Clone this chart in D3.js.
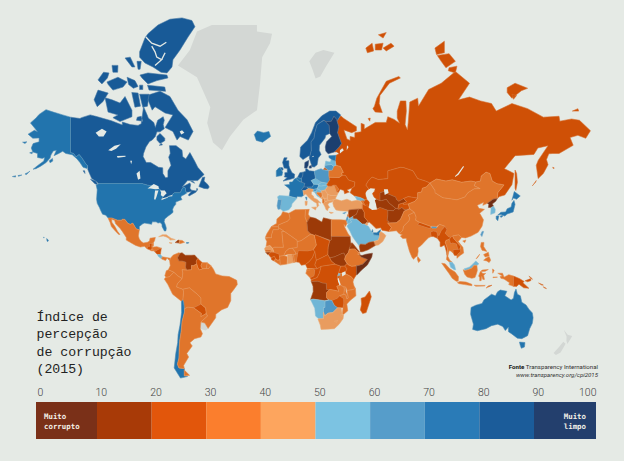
<!DOCTYPE html>
<html>
<head>
<meta charset="utf-8">
<script src="https://cdn.jsdelivr.net/npm/d3@7"></script>
<style>
html,body{margin:0;padding:0;background:#e5eae5;}
svg{display:block;}
</style>
</head>
<body>
<div id="chart"></div>
<script>
// CPI 2015 scores, by country code
var countryCodes=["RUS","CAN","USA","MEX","GTM","BLZ","HND","SLV","NIC","CRI","PAN","CUB","HTI","DOM","JAM",
"ISL","GBR","IRL","FRA","ESP","PRT","NOR","SWE","FIN","DNK","DEU","NLD","BEL","LUX","CHE","AUT","ITA","CZE","POL","SVK","HUN","SVN","HRV","BIH","SRB","MNE","ALB","MKD","GRC","BGR","ROU","MDA","UKR","BLR","LTU","LVA","EST",
"GEO","ARM","AZE","TUR","CYP","SYR","LBN","ISR","JOR","IRQ","IRN","KAZ","UZB","TKM","KGZ","TJK","AFG","PAK","IND","NPL","BTN","BGD","LKA","CHN","MNG","MMR","THA","LAO","VNM","KHM","MYS","IDN","TLS","PNG","PHL","TWN","PRK","KOR","JPN",
"SAU","QAT","ARE","OMN","YEM","KWT",
"MAR","ESH","DZA","TUN","LBY","EGY","SDN","SSD","TCD","NER","MLI","MRT","SEN","GMB","GNB","GIN","SLE","LBR","CIV","BFA","GHA","TGO","BEN","NGA","CMR","CAF","GAB","GNQ","COG","COD","AGO","UGA","KEN","ERI","ETH","DJI","SOM","TZA","RWA","BDI","ZMB","MWI","MOZ","ZWE","BWA","NAM","ZAF","LSO","SWZ","MDG",
"COL","VEN","GUY","SUR","GUF","ECU","PER","BOL","PRY","BRA","CHL","ARG","AUS"];
var countryScores=[29,83,76,35,28,35,31,39,27,55,39,47,17,33,41,
79,81,75,70,58,63,87,89,90,91,81,87,77,81,86,76,44,56,62,51,51,60,51,38,40,44,36,42,46,41,46,33,27,32,61,55,70,
52,35,29,42,61,18,28,61,53,16,27,28,19,18,28,26,11,30,38,27,65,25,37,37,39,22,38,25,31,21,50,36,28,25,35,62,8,56,75,
52,71,70,45,18,49,
36,36,36,38,16,36,12,15,22,34,35,31,44,28,17,25,29,37,32,38,47,32,37,26,27,24,34,34,23,22,17,25,25,18,33,34,8,30,54,21,38,31,31,21,63,53,44,44,43,28,
37,17,29,36,36,32,36,34,27,38,70,32,79];

// drawn pale in the picture
var noDataCodes=["GRL","SJM","NZL","URY"];

var scoreBins=[10,20,30,40,50,60,70,80,90];
var legendColors=["#7a3018","#a83a07","#e2560b","#fb7e2d","#fda55e","#7cc3e2","#569dca","#2a7bb7","#1b5c9a","#233f6d"];
var mapColors=["#6f2c14","#9c3a08","#cf5006","#e0752b","#e99c5f","#70b6d6","#4f97c4","#2274ad","#185a97","#1c3f6f"];
var noDataColor="#d3d7d4";
var legendTicks=[0,10,20,30,40,50,60,70,80,90,100];
var titleLines=["Índice de","percepção","de corrupção","(2015)"];
var sourceLines=["Transparency International","www.transparency.org/cpi2015"];

// lon/lat outlines
var shapes={
CAN:[
[[-141,69.7],[-135,69.4],[-134,69.6],[-128.5,70.2],[-125,69.9],[-120,69.4],[-115,68.9],[-108,67.9],[-108,68.6],[-103,68],[-98,67.8],[-96,68.2],[-95.5,69.5],[-94.5,71.9],[-92,70],[-91.5,69.5],[-88,68.5],[-87,67.3],[-85.5,69],[-82,69.8],[-81.3,69],[-82,68],[-81.3,67],[-84,66.2],[-86,66.2],[-87,65],[-89,64],[-90.7,63.6],[-93,62],[-94.5,60],[-94.8,59],[-92.8,57],[-90,57],[-85,55.3],[-82.3,55.1],[-82.2,53],[-80.5,51.3],[-79,51.5],[-79,54],[-77,56],[-78.5,58.8],[-77.5,60],[-78,62.4],[-73.8,62.4],[-70,61],[-69.6,59],[-67.6,58.2],[-65,60.3],[-62,57.5],[-60,55.3],[-56,52.6],[-60,50.2],[-66.5,50.2],[-70,47.5],[-65,49.2],[-64.5,48.5],[-65,47],[-64,46.1],[-61,45.8],[-60,46.2],[-60.5,47],[-61,45.3],[-65.5,43.5],[-66,44],[-64,45.5],[-67,45.2],[-67.8,45.7],[-67.8,47],[-68.2,47.3],[-69.2,47.4],[-70,46.7],[-70.8,45.4],[-71.5,45],[-74.8,45],[-76.2,44.2],[-76.5,43.6],[-79,43.3],[-79,42.8],[-83.1,42],[-82.5,42.6],[-82.1,43.5],[-82.5,45.3],[-83.6,46],[-84.1,46.5],[-84.9,46.9],[-88.4,48.3],[-89.6,48],[-92,48.3],[-94.6,48.8],[-95.2,49],[-123,49],[-125,50],[-127.5,51],[-130,54.5],[-130,55.9],[-131,56.3],[-133.5,58.4],[-135.5,59.7],[-137.5,58.9],[-139,60],[-141,60.3]],
[[-123.4,48.4],[-125.5,48.9],[-128.3,50.7],[-125,50]],
[[-132,54],[-131.8,53],[-133,54]],
[[-59.3,47.7],[-57,51.4],[-55.5,51.6],[-56,50],[-53.5,48.5],[-52.7,47.5],[-53.5,46.7],[-56,46.9]],
[[-64.5,49.9],[-62,49.1],[-63,49.9]],
[[-86,65],[-84,65.8],[-81,64.5],[-81,63.8],[-84,63],[-86,64]],
// Baffin
[[-91,74.1],[-84,74.7],[-77.7,73.8],[-72.6,71.2],[-66.8,69.1],[-63,66.3],[-66,64],[-71.3,65],[-73.2,64],[-75.8,66.3],[-80.8,67.3],[-75.8,70.2],[-80.8,70.6],[-87.2,71.9],[-89,71.2],[-91.7,73.2]],
// Victoria
[[-119,73.6],[-114.6,73.2],[-109.5,72.6],[-106.3,73.8],[-101.9,71.2],[-101.9,69.8],[-109.5,68.7],[-114,69.6],[-110.8,70.2],[-117.1,70.8]],
// Banks
[[-123.5,74.9],[-117,74.4],[-120.3,72.9],[-124,71.9],[-126,73.2]],
// Melville
[[-117.8,76.2],[-110.8,76.9],[-105,76.2],[-107.6,75.4],[-114,74.9],[-117,75.8]],
// Bathurst
[[-105,76.9],[-100,76.4],[-98,75.5],[-101,75.2],[-104,75.8]],
// Prince Patrick
[[-123.5,76.5],[-120,77.6],[-116.5,77.5],[-117.5,76.8],[-121,75.9]],
// Ellesmere and Axel Heiberg, split by the channels below
[[-97,80.1],[-93.6,81.5],[-91.7,81.9],[-85.3,82.64],[-77.7,83.1],[-70,83.2],[-63.7,83],[-61.8,82.5],[-66.2,81.6],[-71.3,80.3],[-75.8,79.2],[-76.4,78.3],[-79.6,77.5],[-83.4,77.6],[-88.5,78.3],[-93.6,78.8],[-97,79.5]],
// Devon
[[-92,75.7],[-81,75.4],[-80.5,74.7],[-91,74.9]],
[[-96.8,77.2],[-91.7,77.5],[-79.6,77.2],[-79,76.8],[-86,76.4],[-91.7,75.9],[-95.5,76.8]],
[[-97,75.7],[-95,75.7],[-95,75],[-97,75]],
// Somerset, Prince of Wales, King William
[[-97,74.2],[-91,74.2],[-92,72],[-95,71.8]],
[[-102,74.5],[-98,74.4],[-96.5,72],[-100,71.8]],
[[-99,69],[-95,68.8],[-96,69.9],[-98.5,69.7]],
// Ringnes group and small islands
[[-106.3,79.4],[-103,79.5],[-100,78.3],[-101.9,78.3]],
[[-98.7,79],[-96,79],[-96.7,78],[-98,78]],
[[-114.6,78.5],[-110.8,78.5],[-111,77.6],[-114,77.6]],
[[-84.5,62.5],[-82.5,62.6],[-83,63]]
],
USA:[
[[-123,49],[-95.2,49],[-94.6,48.8],[-92,48.3],[-89.6,48],[-88.4,48.3],[-84.9,46.9],[-84.1,46.5],[-83.6,46],[-82.5,45.3],[-82.1,43.5],[-82.5,42.6],[-83.1,42],[-79,42.8],[-79,43.3],[-76.5,43.6],[-76.2,44.2],[-74.8,45],[-71.5,45],[-70.8,45.4],[-70,46.7],[-69.2,47.4],[-68.2,47.3],[-67.8,47],[-67.8,45.7],[-67,44.8],[-69,44],[-70.5,43.5],[-70.7,42.7],[-70,41.8],[-71.5,41.4],[-74,40.6],[-74,39.5],[-75.3,38.3],[-76,37],[-75.7,35.5],[-77,34.6],[-79,33.4],[-81,32],[-81.4,30.5],[-80.5,28.5],[-80,26.8],[-80.3,25.3],[-81.2,25.2],[-82.7,27.7],[-82.8,29],[-84,30],[-85.3,29.7],[-86.5,30.4],[-89,30.4],[-89.4,29],[-91,29.3],[-93.8,29.7],[-95,29.3],[-97.2,27.8],[-97.2,25.9],[-99.2,26.5],[-101.4,29.7],[-103,29],[-104.5,29.6],[-106.5,31.8],[-108.2,31.8],[-108.2,31.3],[-111,31.3],[-114.8,32.5],[-117.1,32.5],[-118.5,34],[-120.6,34.5],[-122,36.8],[-122.5,37.8],[-124,40],[-124.4,42],[-124,46.3],[-124.7,48.4]],
[[-141,69.7],[-141,60.3],[-139,60],[-137.5,58.9],[-135.5,59.7],[-133.5,58.4],[-131,56.3],[-130,55.9],[-130.5,54.9],[-133,55.3],[-135,57],[-137,58.3],[-139.9,59.6],[-144,60],[-146,60.7],[-148.5,60],[-151.5,59.3],[-150,61],[-152,60.8],[-153.5,59.5],[-154,58.5],[-156.5,57],[-160,55.7],[-163,54.8],[-164.8,54.6],[-162,55.9],[-158,57.5],[-157.5,58.7],[-159,58.4],[-162,58.7],[-162,60],[-165,60.5],[-166,61.7],[-164.8,63],[-161,63.5],[-161,64.6],[-165,64.5],[-168,65.6],[-164,66.6],[-162,66.2],[-163.7,67.1],[-166.5,68.4],[-163,69.5],[-161,70.3],[-156.6,71.3],[-152,70.8],[-146,70.2]],
[[-154.5,57.6],[-152.5,58.4],[-152.3,57.5],[-154,56.9]],
[[-171.5,63.4],[-168.8,63.5],[-170,63]],
[[-167,60.2],[-165.2,60.5],[-165.5,59.9]],
[[-178,51.8],[-176,52.1],[-176,51.6]],
[[-174.5,52.2],[-172,52.4],[-174,51.9]],
[[-170,52.8],[-168,53.4],[-166.8,53.9],[-169,52.6]],
[[-156.2,20.8],[-155,19.8],[-155.6,18.9],[-156,19.6]],
[[-158.2,21.6],[-157.7,21.4],[-158,21.2]],
[[-67.2,18.4],[-65.7,18.4],[-66,18],[-67.2,18]]
],
MEX:[[[-117.1,32.5],[-114.8,32.5],[-111,31.3],[-108.2,31.3],[-108.2,31.8],[-106.5,31.8],[-104.5,29.6],[-103,29],[-101.4,29.7],[-99.2,26.5],[-97.2,25.9],[-97.8,22.4],[-97.2,20.6],[-96,19],[-94.5,18.2],[-92,18.6],[-90.7,19.3],[-90.4,21],[-87,21.5],[-87.5,19.5],[-88.2,18.5],[-89.1,17.9],[-91,17.8],[-90.5,16.1],[-91.7,16.1],[-92.2,14.6],[-94,16.1],[-96.5,15.7],[-99.5,16.7],[-102,18],[-105.5,19.9],[-105.5,21.5],[-108,25],[-109.4,26.7],[-112.3,29.3],[-113,31.2],[-114.8,31.8],[-114.7,30.2],[-112.8,27.9],[-111,25],[-109.5,23.2],[-110.3,23.2],[-112.2,25],[-115,27.8],[-115.8,30]]],
GTM:[[[-92.2,14.6],[-91.7,16.1],[-90.5,16.1],[-91,17.8],[-89.1,17.8],[-89.2,15.9],[-88.2,15.7],[-89.2,14.5],[-90.1,13.8]]],
BLZ:[[[-89.1,17.9],[-88.2,18.5],[-88.2,16.5],[-89.2,15.9]]],
HND:[[[-89.2,15.9],[-88.2,15.7],[-86,15.9],[-83.2,15],[-85,14.3],[-87.3,13],[-87.8,13.4],[-89.2,14.4]]],
SLV:[[[-90.1,13.8],[-89.2,14.4],[-87.8,13.9],[-87.8,13.3],[-89.8,13.4]]],
NIC:[[[-87.3,13],[-85,14.3],[-83.2,15],[-83.6,12.5],[-83.7,11],[-85.7,11.1],[-87.5,12.9]]],
CRI:[[[-85.7,11.1],[-83.7,11],[-82.6,9.6],[-83,8.3],[-85,9.8]]],
PAN:[[[-83,8.3],[-82.6,9.6],[-80,9.2],[-77.4,8.7],[-77.9,7.2],[-79.5,8.9],[-80.5,7.3],[-82.9,8.2]]],
CUB:[[[-84.9,21.9],[-82.5,23.1],[-80,23],[-77,21],[-74.3,20.2],[-77.7,19.9],[-78,20.7],[-80,21.8],[-82,22.4],[-83.8,22]]],
HTI:[[[-74.4,18.4],[-72.5,19.9],[-71.7,19.8],[-71.8,18.1]]],
DOM:[[[-71.7,19.8],[-69.9,19.7],[-68.4,18.6],[-71.4,17.7],[-71.8,18.1]]],
JAM:[[[-78.3,18.4],[-76.3,18.2],[-77,17.8]]],
GRL:[[[-51,82.64],[-22.3,82.64],[-22.3,82.1],[-12.7,81.9],[-14,81],[-19,79.5],[-20.4,75.8],[-22.3,71.2],[-31,69.1],[-39.5,65],[-44.6,61],[-50.3,63.3],[-54,68.4],[-52,71.8],[-60.5,76.9],[-72.6,78.5],[-65,80.3],[-60.5,82.1]]],
SJM:[[[11,79],[15,80],[20,80.3],[27,80],[22,78.5],[18,77],[15,76.7],[13,78]]],
NZL:[[[173,-34.5],[175.5,-37],[178.4,-37.7],[177,-39.5],[175.3,-41.6],[174.7,-40],[174.8,-38]],[[172.7,-40.5],[174.2,-41.5],[171,-45.5],[168,-46.6],[166.5,-45.8],[170,-43]]],
URY:[[[-58.4,-34],[-58,-30.3],[-55.5,-30.9],[-53.4,-33.8],[-55,-34.9]]],
ISL:[[[-24,65.5],[-22,66.4],[-18,66],[-14.7,66.3],[-13.6,65],[-18.7,63.4],[-22.7,63.9]]],
GBR:[[[-5.7,50],[-1,50.7],[1.4,51.2],[1.7,52.7],[0,53.3],[-1.5,55],[-2,56],[-2,57.6],[-4,57.6],[-3.1,58.6],[-5,58.6],[-6,57],[-5,55],[-3,54.9],[-3,53.4],[-4.6,53.3],[-4.5,52.2],[-5,51.7],[-3,51.4]],[[-6.4,54.1],[-5.5,54.6],[-6.2,55.2],[-7.4,55.1]]],
IRL:[[[-10,51.8],[-6.4,52.2],[-6,53.5],[-6.5,54.1],[-7.5,55.2],[-8.5,55],[-10,54]]],
FRA:[[[-1.8,43.4],[3,42.5],[3.2,43.3],[6,43.1],[7.5,43.8],[7,45.9],[6,46.3],[7.5,47.6],[8.2,49],[6.2,49.5],[4.2,50],[2.5,51.1],[1.5,50.8],[0.2,49.6],[-1.5,49.6],[-1.6,48.6],[-4.7,48.4],[-2,47],[-1.2,46]],[[8.6,42.9],[9.5,42.9],[9.3,41.5]]],
ESP:[[[-9.2,43.1],[-8,43.7],[-1.8,43.4],[3.2,42.4],[0,39.8],[-0.3,38.5],[-2,36.8],[-5.5,36],[-7.4,37.2],[-7,39.5],[-6.5,41.7],[-8.8,41.9]]],
PRT:[[[-8.8,41.9],[-6.5,41.7],[-7,39.5],[-7.4,37.2],[-8.9,37],[-9.5,38.7]]],
NOR:[[[5,59],[7,58],[10.5,59.2],[11.3,59.1],[12.3,61],[12.1,63.5],[14,64.5],[14.5,66],[16,68],[20,69],[22,68.7],[25,68.8],[26.7,69.9],[29,69],[31,70.2],[28,71],[24,71],[19,70],[15,68.5],[12.5,66],[10,64],[5.5,62]]],
SWE:[[[11.3,59.1],[11,58.5],[12.8,55.5],[14.2,55.4],[16,56.2],[16.7,58.5],[18.5,59.7],[17.3,61],[17.5,62.5],[21,64.5],[21.5,65.3],[24,65.8],[23.6,67.8],[20.5,69],[16,68],[14.5,66],[14,64.5],[12.1,63.5],[12.3,61]]],
FIN:[[[24,65.8],[25.3,65],[22,63.5],[21.2,62],[21.5,60.8],[23,59.9],[27,60.5],[30,62],[31.5,63],[29,66],[29.8,67.5],[28.5,69],[29,69],[26.7,69.9],[25,68.8],[22,68.7],[20.5,69],[23.6,67.8]]],
DNK:[[[8,55],[8.2,57],[10.6,57.7],[10.3,56],[9.5,55]],[[11,55.7],[12.5,56],[12.3,55],[11,55]]],
DEU:[[[6.2,49.5],[8.2,49],[7.5,47.6],[10,47.4],[13,47.5],[13.8,48.7],[12.2,50.2],[15,51],[14.7,52],[14.2,53.8],[11,54],[9.5,54.8],[8.7,54.8],[8.7,53.8],[7,53.5],[6.9,52.3],[6,51]]],
NLD:[[[6.9,52.3],[7,53.5],[5,53.3],[4,52],[3.4,51.4],[6,51]]],
BEL:[[[2.5,51.1],[3.4,51.4],[6,51],[6.2,50],[6,49.5],[4.2,50]]],
LUX:[[[6,50.1],[6.5,49.5],[6,49.5]]],
CHE:[[[6,46.3],[7.5,47.6],[9.6,47.5],[10.4,46.8],[8.5,46],[7,45.9]]],
AUT:[[[9.6,47.5],[13,47.5],[13.8,48.7],[16.9,48.6],[16.1,46.8],[13.7,46.5],[10.4,46.8]]],
ITA:[[[7,45.9],[8.5,46],[10.4,46.8],[13.7,46.5],[13.6,45.7],[12.3,45.3],[12.4,44.2],[13.6,43.5],[14,42.5],[16,41.9],[18.4,40.1],[17,40.5],[16.6,39.7],[17.1,39],[16,38],[15.7,40],[14,40.8],[12.3,41.7],[10.5,42.9],[8.8,44.4],[7.5,43.8]],[[12.5,38],[15.6,38.2],[15,36.7]],[[8.3,41],[9.7,41],[9.5,39.1],[8.5,39]]],
CZE:[[[12.2,50.2],[13.8,48.7],[16.9,48.6],[18.8,49.5],[15,51]]],
POL:[[[14.2,53.8],[14.7,52],[15,51],[18.8,49.5],[22.6,49.1],[24,50.5],[23.6,51.5],[23.5,52],[23.5,54],[19.7,54.4],[18.5,54.8],[16,54.3]]],
SVK:[[[16.9,48.6],[18.8,49.5],[22.6,49.1],[22.1,48.4],[18.8,47.9],[17,48]]],
HUN:[[[16.1,46.8],[17,48],[18.8,47.9],[22.1,48.4],[22.9,47.9],[21,46.2],[18.5,45.8]]],
SVN:[[[13.7,46.5],[16.1,46.8],[15.5,45.5],[13.6,45.5]]],
HRV:[[[13.6,45.5],[15.5,45.5],[16.1,46.8],[18.5,45.8],[19,45],[16,45.2],[15.8,44.5],[18.5,42.5],[16,43.5],[14.5,45.2]]],
BIH:[[[16,45.2],[19,45],[19.3,43.5],[18.5,42.5],[15.8,44.5]]],
SRB:[[[18.5,45.8],[21,46.2],[22.6,44.5],[22.5,42.5],[20.5,42.3],[19.3,43.5],[19,45]]],
MNE:[[[18.5,42.5],[19.3,43.5],[20.5,42.8],[19.4,41.9]]],
ALB:[[[19.4,41.9],[20.5,42.3],[20.9,40.8],[20,39.7],[19.4,40.5]]],
MKD:[[[20.5,42.3],[22.5,42.5],[23,41.3],[20.9,40.9]]],
GRC:[[[20,39.7],[20.9,40.8],[23,41.3],[26.3,41.7],[26,40.8],[23.5,40.2],[22.8,39.3],[24,38],[23,37.4],[22.8,36.4],[21.7,36.8],[21,38.3]],[[23.6,35.6],[26.3,35.3],[24.8,34.9]]],
BGR:[[[22.6,44.2],[25,43.7],[28.6,43.7],[27.7,42.4],[28,42],[26.3,41.7],[23,41.3],[22.5,42.5]]],
ROU:[[[21,46.2],[22.9,47.9],[24.9,47.8],[26.6,48.3],[28.2,45.5],[29.6,45.2],[28.6,43.7],[25,43.7],[22.6,44.2]]],
MDA:[[[26.6,48.3],[28,48.2],[30,46.4],[28.2,45.5]]],
UKR:[[[22.1,48.4],[22.6,49.1],[24,50.5],[23.6,51.5],[30,51.4],[32,52.3],[34,52.3],[36,50.4],[40,49.6],[39.7,47.8],[38.2,47.1],[35,46.2],[36.5,45.3],[33.5,44.5],[33,46],[30.7,46.5],[29.6,45.2],[28.2,45.5],[30,46.4],[28,48.2],[26.6,48.3],[24.9,47.8],[22.9,47.9]]],
BLR:[[[23.5,52],[23.6,51.5],[30,51.4],[32,52.3],[31.5,53.2],[32.7,53.4],[30.8,55.6],[28,56],[26.5,55.7],[25.7,54.3],[23.5,54]]],
LTU:[[[21,56],[21,55.2],[23,54.3],[25.7,54.3],[26.5,55.7],[25,56.3]]],
LVA:[[[21,56],[25,56.3],[26.5,55.7],[28,56],[27.5,57.5],[25,58],[24.3,57.2],[23,57.3],[21.5,57.5]]],
EST:[[[23.5,58.7],[24.5,58.3],[25,58],[27.5,57.5],[28,59.4],[23.5,59.3]]],
RUS:[
[[29,69],[31,70],[33,69.4],[41,67.5],[41,66.5],[38,66],[33,66.7],[35,64.3],[37,63.9],[37,65],[40,64.7],[40,66],[44,66.2],[44,68.3],[46,68],[46,66.9],[53,68.5],[60,68.5],[61,69.8],[65,69.2],[68.5,68.3],[67,69.5],[67,71],[69,73],[72.5,73],[72.8,71],[72,68],[73.5,66.7],[74,68.5],[75,72.8],[80,73.5],[80.5,72],[87,75],[95,76],[104,77.7],[113,76],[106,73.2],[113,73.7],[120,73],[127,72.5],[130,71],[140,72.5],[150,71.5],[160,69.7],[170,69.9],[170.5,68.8],[178,69.3],[183,69],[190,66.5],[187,64.5],[182,65.3],[177,64.7],[179,62.5],[170,60],[166,60],[163.5,59.9],[162,58],[163,56.2],[160,53],[156.7,51],[155.5,56],[156.8,57.8],[163,62.4],[156.5,61.7],[154,59.7],[142,59.3],[135.2,54.8],[138,54],[141.3,53],[140,48.5],[135.5,44],[132,43.2],[130.7,42.3],[131,45],[135,48.4],[130.5,48.9],[127.5,50],[126,53],[123.5,53.5],[120.5,52],[120,50],[117,49.6],[114,50],[108,49.5],[102,50.5],[98,50],[92,50.8],[87.8,49.2],[85,50],[80,51],[77,54],[71,55.2],[69,55.3],[61,54],[61,51],[55,50.6],[51,51.6],[48.5,50],[47,48.3],[49,46.5],[47.5,45.7],[46.7,44.5],[47.7,41.9],[46,41.9],[43.7,42.7],[40,43.4],[37,45],[38.2,47.1],[39.7,47.8],[40,49.6],[36,50.4],[34,52.3],[32,52.3],[31.5,53.2],[32.7,53.4],[30.8,55.6],[28,56],[27.5,57.5],[28,59.4],[30,59.9],[28.5,60.5],[27,60.5],[30,62],[31.5,63],[29,66],[29.8,67.5],[28.5,69]],
[[19.8,54.4],[23,54.3],[21,55.2]],
[[51.5,71.5],[53,70.8],[57.5,70.7],[55.5,72.5],[56,74],[62,76],[69,76.8],[68,77],[60,76.3],[54,73.5],[52.5,72]],
[[91,80.5],[97,81.2],[97,80],[92,79.8]],
[[92.5,79.7],[100,79.9],[104,79],[98,78.2],[95,79]],
[[100,78.2],[105,78.4],[104,77.5],[99.5,77.8]],
[[137,75.3],[142,76],[150,75.2],[146,74.8],[140,73.5],[137,74.5]],
[[140,74.2],[143,74],[141,73.3]],
[[178.5,71],[182,71.5],[182.5,71]],
[[142,54.3],[143,53],[143.5,49.5],[142.5,46],[142,47],[142,50]],
[[47,80.5],[51,81],[52,80.2],[48,80]],
[[53,80.9],[58,81],[57,80.3],[53,80.3]],
[[58,80.5],[63,81],[65,80.7],[60,80.2]],
[[55,81.8],[60,82],[58,81.5]],
[[48.5,69.4],[49.8,69.5],[49.5,68.8]],
[[166,55.3],[167,55],[166.2,54.9]],
[[153,48],[155,49.5],[155.5,50.2],[154,48.8]]
],
GEO:[[[40,43.4],[43.7,42.7],[46,41.9],[46.5,41.1],[43.5,41.1],[41.5,41.5]]],
ARM:[[[43.5,41.1],[45,41.2],[46.5,39],[44.8,39.7]]],
AZE:[[[46.5,41.1],[46,41.9],[47.7,41.9],[49.5,40.5],[49,38.4],[46.5,39],[45,41.2]]],
TUR:[[[26,40.1],[26.3,41.7],[28,42],[31.5,41.2],[35,42],[38,41],[41.5,41.5],[43.5,41.1],[44.8,39.7],[44.8,37.2],[42.3,37.2],[38,36.9],[36.2,36.7],[36,36],[33,36.2],[30.5,36.3],[28,36.7],[26.5,38.5]]],
CYP:[[[32.3,35],[34.5,35.6],[33.5,34.7]]],
SYR:[[[36,34.6],[36,36],[36.2,36.7],[38,36.9],[42.3,37.2],[41,34.5],[38.8,33.4],[36.8,32.3],[35.9,33.5]]],
LBN:[[[35.2,33.1],[35.9,33.5],[36,34.6],[35.6,34.5]]],
ISR:[[[34.3,31.3],[35,29.5],[35.6,31.5],[35.8,33],[35.1,33.1]]],
JOR:[[[35,29.5],[36,29.3],[38,30.3],[37,31.5],[39,32],[38.8,33.4],[36.8,32.3],[35.6,31.5]]],
IRQ:[[[38.8,33.4],[41,34.5],[42.3,37.2],[44.8,37.2],[46,35.5],[46,33],[48,31],[48.5,30],[47.7,30.1],[46.5,29.1],[44.7,29.2],[41,31.9],[39,32]]],
IRN:[[[44.8,39.7],[46.5,39],[48,39.5],[49,37.5],[54,36.9],[56,38],[61,36.5],[61,34],[60.5,31],[61.8,30.7],[60.9,29.8],[63.3,27.2],[61.7,25],[57.3,25.7],[56.5,27.1],[53.5,26.7],[50.8,29],[49,30.4],[48.5,30],[48,31],[46,33],[46,35.5],[44.8,37.2]]],
KAZ:[[[47,48.3],[48.5,50],[51,51.6],[55,50.6],[61,51],[61,54],[69,55.3],[71,55.2],[77,54],[80,51],[85,50],[87.8,49.2],[85.5,47.5],[83,47],[82.5,45.3],[80,45],[80,42.5],[74,43.2],[71,42.3],[68,41],[66.5,41.9],[66,43],[61,44.5],[58.5,45.5],[56,45],[56,41.3],[54,42],[52.5,42.7],[51,44.6],[53,46],[49,46.5]]],
UZB:[[[56,41.3],[56,45],[58.5,45.5],[61,44.5],[66,43],[66.5,41.9],[68,41],[71,42.3],[73,40.8],[71,40.2],[68,39.5],[67.4,37.3],[66,37.5],[62,40],[60,42],[57,41.3]]],
TKM:[[[52.5,41.8],[54,42],[56,41.3],[57,41.3],[60,42],[62,40],[66,37.5],[64.5,36.3],[61,36.5],[56,38],[54,37.3],[53,39.5]]],
KGZ:[[[71,42.3],[74,43.2],[80,42.5],[78,40.9],[74,39.7],[71,39.5],[71,40.2],[73,40.8]]],
TJK:[[[68,39.5],[71,40.2],[71,39.5],[74,39.7],[75,37.2],[71.5,36.8],[70,38],[68,37],[67.4,37.3]]],
AFG:[[[61,36.5],[64.5,36.3],[66,37.5],[67.4,37.3],[68,37],[70,38],[71.5,36.8],[74.9,37.3],[71.3,36],[70,33.5],[69,31.7],[66.4,29.9],[60.9,29.8],[61.8,30.7],[60.5,31],[61,34]]],
PAK:[[[60.9,29.8],[66.4,29.9],[69,31.7],[70,33.5],[71.3,36],[74.9,37.3],[77.8,35.5],[74,34],[75,32.5],[74.5,31],[71,28],[70.5,25.5],[68.2,23.7],[66.5,25.4],[61.7,25],[63.3,27.2]]],
IND:[[[77.8,35.5],[79,33],[78.7,31.3],[81,30.2],[80,28.8],[88,26.5],[88.2,27.9],[89,26.9],[92,26.9],[94,29],[97.4,27.9],[95,25.5],[93.5,22.5],[92.5,23.7],[92,25],[89.8,25.3],[88.1,24.5],[88.7,22],[86.9,21.3],[85,19.5],[82.2,16.7],[80.2,15.2],[80.3,13],[79.8,10.3],[78,8.9],[77.5,8.1],[76.5,9],[74.8,13],[73,19],[72.7,21],[70.5,20.8],[69,22.3],[70.3,23],[68.2,23.7],[70.5,25.5],[71,28],[74.5,31],[75,32.5],[74,34]]],
NPL:[[[80,28.8],[81,30.2],[88.2,27.9],[88,26.5]]],
BTN:[[[89,26.9],[89,28],[92,27.8],[92,26.9]]],
BGD:[[[88.1,24.5],[89.8,25.3],[92,25],[92.5,23.7],[92.5,21],[90,22],[88.7,22]]],
LKA:[[[80,9.8],[81.8,7.5],[80.6,6],[79.8,8]]],
CHN:[[[74,39.7],[78,40.9],[80,42.5],[80,45],[82.5,45.3],[83,47],[85.5,47.5],[87.8,49.2],[91,46],[91,45],[96,42.7],[105,41.7],[110,43],[112,45],[116,46.7],[119.8,46.8],[116,48],[117,49.6],[120,50],[120.5,52],[123.5,53.5],[126,53],[127.5,50],[130.5,48.9],[135,48.4],[131,45],[130.7,42.3],[128,42],[126,40.9],[124.4,40],[121.5,39],[122,40.5],[118,39],[119,37.5],[122.5,37],[119.5,35],[121.9,31.5],[121,28],[118.5,24.5],[114,22.3],[110.5,21.2],[108,21.5],[106,23],[102.2,22.4],[101,21.5],[99.5,22],[97.5,24],[98.7,25.9],[97.4,27.9],[94,29],[92,27.8],[89,28],[88.2,27.9],[81,30.2],[78.7,31.3],[79,33],[77.8,35.5],[74.9,37.3],[75,37.2]],[[108.7,19.3],[110.7,20],[110,18.4]]],
MNG:[[[87.8,49.2],[92,50.8],[98,50],[102,50.5],[108,49.5],[114,50],[117,49.6],[116,48],[119.8,46.8],[116,46.7],[112,45],[110,43],[105,41.7],[96,42.7],[91,45],[91,46]]],
MMR:[[[92.5,21],[92.5,23.7],[93.5,22.5],[95,25.5],[97.4,27.9],[98.7,25.9],[97.5,24],[99.5,22],[101,21.5],[100,20.3],[98,19.7],[97.6,18.5],[99,14.5],[98.7,10.5],[98.5,12],[97.7,15],[97,16.9],[95,15.9],[94.3,16],[94.3,18.7]]],
THA:[[[100.1,20.4],[101,17.5],[102.1,18.2],[104.7,17.5],[105.5,14.3],[102.5,14],[102.6,12],[100.9,13.3],[100,13.4],[99.2,10],[100.4,7.5],[102,6.2],[100.1,6.4],[98.3,7.9],[98.7,10.5],[99,14.5],[97.6,18.5],[98,19.7]]],
LAO:[[[100,20.3],[101,21.5],[102.2,22.4],[103,20.8],[105,18.7],[107.5,16],[107,14.5],[105.5,14.3],[104.7,17.5],[102.1,18.2],[101,17.5],[100.1,20.4]]],
VNM:[[[102.2,22.4],[106,23],[108,21.5],[105.8,19],[108.8,15.5],[109.3,12],[107,10.5],[105,8.7],[105,10.5],[106,11.7],[107.5,13],[107,14.5],[107.5,16],[105,18.7],[103,20.8]]],
KHM:[[[102.6,12],[102.5,14],[105.5,14.3],[107,14.5],[107.5,13],[106,11.7],[105,10.5],[103.5,10.5]]],
MYS:[[[100.1,6.4],[102,6.2],[103.4,4.5],[104.2,1.4],[103.3,1.5],[101,3],[100.3,5.5]],[[109.6,2],[110,0.9],[112,1.5],[114.5,2.5],[115.9,4.3],[117.7,4.2],[119,5.2],[117,7],[115,5],[113,3.2],[111.4,2.6]]],
IDN:[
[[95.3,5.6],[97.5,5.2],[100.5,2],[103.8,0],[106,-3],[105.8,-5.8],[104.5,-5.8],[102,-4],[100,-1],[98,1.8]],
[[105.3,-6.8],[106.8,-6],[110.8,-6.4],[114.5,-7.8],[114.5,-8.7],[110,-8],[106.4,-7.4]],
[[109,1.5],[110,0.9],[112,1.5],[114.5,2.5],[115.9,4.3],[117.7,4.2],[118,1],[117.5,-0.8],[116.5,-3.5],[114.5,-4],[111.5,-3.2],[110,-1.5]],
[[119.8,0],[121,1.2],[125,1.6],[123,0.5],[120.3,0.3],[121.5,-1],[123.3,-0.9],[122,-2],[122.5,-4.7],[121.5,-4.7],[120.8,-2.7],[120.4,-5.5],[119.5,-5.5],[119.5,-3.3],[118.8,-2.7]],
[[131,-0.8],[134,-0.8],[135,-3.3],[138,-1.7],[141,-2.6],[141,-9.1],[138,-8],[138.5,-6.8],[135,-4.5],[133,-4],[132.5,-2.8],[134,-2.5]],
[[116,-8.4],[119,-8.5],[123,-8.5],[122.5,-8.9],[117,-9]],
[[127.7,2],[128.7,1],[127.8,-0.8]],
[[127.9,-3.2],[130.8,-3.3],[128,-3.6]],
[[123.5,-10.2],[124.9,-8.9],[125,-9.5]]
],
TLS:[[[124.9,-8.9],[127.3,-8.4],[125,-9.5]]],
PNG:[[[141,-2.6],[145,-4.3],[147.8,-6],[147,-6.8],[150.8,-10.3],[147.5,-10],[144.5,-7.7],[143,-9.2],[141,-9.1]],[[148.4,-5.6],[152,-4.2],[152,-5.5],[150,-6.2]],[[150.8,-2.7],[153,-4.7],[152.5,-3.8]],[[157,-7],[160,-8.3],[159,-8.3]],[[160,-9.3],[162,-10.5],[160.5,-10]]],
PHL:[[[120.5,18.5],[122.2,18.5],[122,16],[124,13],[121,13.7],[120,16]],[[122,7.5],[123.5,8.7],[125.5,9.8],[126.5,7.5],[125.5,6],[124,7]],[[117.2,8.4],[119.5,11.3],[118,8.9]],[[122,11],[125,12.5],[125.5,10.2],[123,9.5]]],
TWN:[[[120.1,23],[121,25],[122,25],[120.9,22]]],
PRK:[[[124.4,40],[126,40.9],[128,42],[130.7,42.3],[129.7,41],[127.5,39.7],[128.3,38.6],[126.7,37.9],[125,38],[125.3,39.5]]],
KOR:[[[126.7,37.9],[128.3,38.6],[129.4,37],[129.2,35.2],[126.5,34.4],[126.7,37]]],
JPN:[[[130.9,34],[133,35.5],[136,35.7],[137,37.3],[139.5,38.2],[140,40],[141.3,41.4],[142,39.5],[140.8,35.7],[137,34.6],[135.5,33.5],[133,34.3]],[[140,41.5],[141.5,45.5],[145.3,43.5],[143,42],[141,42.5]],[[130,33.5],[131.7,33.6],[131,31],[130,32]],[[132.5,33.5],[134.5,34],[134,33.3],[133,32.8]]],
SAU:[[[36,29.3],[38,30.3],[37,31.5],[39,32],[41,31.9],[44.7,29.2],[46.5,29.1],[47.7,28.5],[48.8,27.7],[50.2,25.6],[51,24.5],[52,23],[55,22.7],[55.7,22],[55,20],[52,19],[49,18.6],[46.7,17.3],[43.5,17.5],[42.8,16.4],[40,20],[38.5,22],[37,25],[35,28]]],
QAT:[[[50.8,24.8],[51.2,26.1],[51.6,25],[51,24.5]]],
ARE:[[[51.6,24.2],[54,24.2],[56.3,26],[56.4,24.9],[55.7,24],[55.7,22],[55,22.7],[52,23]]],
OMN:[[[56.4,24.9],[58.7,23.6],[59.8,22.5],[57.8,19],[55,17],[53,16.6],[52,19],[55,20],[55.7,22],[55.7,24]]],
YEM:[[[42.8,16.4],[43.5,17.5],[46.7,17.3],[49,18.6],[52,19],[53,16.6],[48.5,14],[45,12.8],[43.5,12.7]]],
KWT:[[[46.5,29.1],[47.7,30.1],[48.4,29.2],[47.7,28.5]]],
MAR:[[[-1.2,32.2],[-2,35],[-5.9,35.8],[-6.9,34],[-9.6,32],[-9.8,29.5],[-12.9,27.9],[-13.2,27.7],[-8.7,27.7],[-8.7,28.7],[-3,30.7]]],
ESH:[[[-8.7,27.7],[-13.2,27.7],[-16,23.7],[-17,21.4],[-13,21.3],[-13,23],[-12,26],[-8.7,26]]],
DZA:[[[-2,35],[2,36.8],[8.6,36.9],[8.3,33],[9.5,30.2],[10,25.3],[12,23.5],[5.7,19.5],[3.3,19],[3.2,19.8],[-4.8,25],[-8.7,27.2],[-8.7,28.7],[-3,30.7],[-1.2,32.2]]],
TUN:[[[8.6,36.9],[11,37],[10.3,34.5],[11.5,33],[10,30.5],[9.5,30.2],[8.3,33]]],
LBY:[[[11.5,33],[15,32.3],[19,30.3],[20,32.6],[25,31.6],[25,20],[24,19.5],[24,20],[15,23],[14.2,22.7],[12,23.5],[10,25.3],[9.5,30.2]]],
EGY:[[[25,31.6],[31,31.5],[34.3,31.3],[35,29.5],[34,27.8],[33,29],[33.5,27.5],[35.5,24],[37,22],[25,22]]],
SDN:[[[25,22],[37,22],[37.4,18],[38.6,18],[36.5,15],[36,12.5],[34,10],[33,12],[32,11.8],[27,9.6],[24,9],[22.8,11],[23,15.7],[24,19.5],[25,20]]],
SSD:[[[24,9],[27,9.6],[32,11.8],[33,12],[34,10],[33.5,8],[35,5.4],[33.5,3.8],[31,3.7],[27.5,5],[25,7]]],
TCD:[[[14.2,22.7],[15,23],[24,19.5],[23,15.7],[22.8,11],[18.8,9],[15.5,7.5],[15,10],[14.5,12.9],[13.5,14],[15.5,16.9]]],
NER:[[[3.3,19],[5.7,19.5],[12,23.5],[14.2,22.7],[15.5,16.9],[13.5,14],[10,13.3],[4,13.5],[3.6,11.7],[2.4,11.3],[2.2,12.5],[0.2,15],[3.3,15.4]]],
MLI:[[[-12.3,14.8],[-11.5,15.6],[-5.5,15.5],[-6.5,25],[-4.8,25],[3.2,19.8],[3.3,19],[3.3,15.4],[0.2,15],[-2,14.7],[-4,13],[-5.3,10.4],[-8,10],[-8.3,11.4],[-11.5,12.4]]],
MRT:[[[-17,21],[-13,21.3],[-13,23],[-12,26],[-8.7,26],[-8.7,27.2],[-4.8,25],[-6.5,25],[-5.5,15.5],[-11.5,15.6],[-12.3,14.8],[-14,16.6],[-16.5,16],[-16,19]]],
SEN:[[[-16.5,16],[-14,16.6],[-12.3,14.8],[-11.5,12.4],[-16.7,12.4],[-17.5,14.7]]],
GMB:[[[-16.8,13.6],[-13.8,13.5],[-13.8,13.3],[-16.7,13.2]]],
GNB:[[[-16.7,12.4],[-13.7,12.6],[-14,11.7],[-15.5,11]]],
GIN:[[[-15,11],[-13.7,12.6],[-11.5,12.4],[-8.3,11.4],[-8,10],[-7.7,8],[-9,7.4],[-10.5,8.4],[-11.2,10],[-13.3,9.1]]],
SLE:[[[-13.3,9.1],[-11.2,10],[-10.5,8.4],[-11.4,7],[-13,7.8]]],
LBR:[[[-11.4,7],[-10.5,8.4],[-9,7.4],[-7.7,8],[-7.5,4.4]]],
CIV:[[[-7.5,4.4],[-7.7,8],[-8,10],[-5.3,10.4],[-2.8,9.6],[-3.1,5.1]]],
BFA:[[[-5.3,10.4],[-4,13],[-2,14.7],[0.2,15],[2.2,12.5],[2.4,11.3],[0,11],[-2.8,11]]],
GHA:[[[-3.1,5.1],[-2.8,11],[0,11],[0.5,8],[1,6]]],
TGO:[[[0,11],[1,11],[1.6,6.2],[1,6],[0.5,8]]],
BEN:[[[1,11],[2.4,11.3],[3.6,11.7],[2.7,6.4],[1.6,6.2]]],
NGA:[[[2.7,6.4],[3.6,11.7],[4,13.5],[10,13.3],[13.5,14],[14.5,12.9],[13,9],[11,6.7],[8.6,4.8],[6,4.3],[4.5,6.2]]],
CMR:[[[8.6,4.8],[11,6.7],[13,9],[14.5,12.9],[15,10],[15.5,7.5],[14.5,4.5],[16,2],[13,2.2],[9.8,2.2]]],
CAF:[[[15.5,7.5],[18.8,9],[22.8,11],[24,9],[25,7],[27.5,5],[22,4.2],[18.5,3.6],[16,2],[14.5,4.5]]],
GAB:[[[9.8,2.2],[13,2.2],[14.5,1.3],[14,-2.4],[11.5,-3.7],[8.8,-0.8]]],
GNQ:[[[9.4,1],[11.3,1],[11.3,2.2],[9.8,2.2]]],
COG:[[[13,2.2],[16,2],[18.5,3.6],[17.5,-0.5],[16,-3.5],[12.2,-5],[11.5,-3.7],[14,-2.4],[14.5,1.3]]],
COD:[[[18.5,3.6],[22,4.2],[27.5,5],[31,3.7],[29.6,-1],[29,-4.5],[30.7,-8.3],[28.5,-9],[29.8,-12.2],[27.3,-11.6],[24,-11],[22,-11],[21.8,-7.2],[19.5,-7],[16.5,-5.8],[12.2,-6],[12.2,-5],[16,-3.5],[17.5,-0.5]]],
AGO:[[[12.2,-6],[16.5,-5.8],[19.5,-7],[21.8,-7.2],[22,-11],[24,-11],[22,-13],[22,-16.2],[23.4,-17.6],[21,-18],[13.4,-17],[11.8,-17.3],[13.5,-12.5],[13.4,-9]]],
UGA:[[[31,3.7],[33.5,3.8],[35,2],[34,0],[33.9,-1],[30.5,-1],[29.6,-1]]],
KEN:[[[35,5.4],[36,4.5],[38,3.6],[41,3.9],[41,-1.7],[39.2,-4.7],[37.7,-3],[33.9,-1],[34,0],[35,2],[33.5,3.8]]],
ERI:[[[36.5,15],[37.4,18],[38.6,18],[43,12.7],[42.3,12.5],[40,14.5],[38,14.5],[36.5,14.3]]],
ETH:[[[34,10],[36,12.5],[36.5,14.3],[38,14.5],[40,14.5],[42.3,12.5],[42,11],[43,11],[44,9.5],[48,8],[45,5],[42,4],[41,3.9],[38,3.6],[36,4.5],[35,5.4],[33.5,8]]],
DJI:[[[41.8,11],[42.3,12.5],[43.3,12],[43,11]]],
SOM:[[[41,-1.7],[41,3.9],[42,4],[45,5],[48,8],[44,9.5],[43,11],[44.5,10.4],[47,11.2],[51.2,11.9],[50.8,9.5],[48,4.5],[44,1],[41.5,-1.7]]],
TZA:[[[33.9,-1],[37.7,-3],[39.2,-4.7],[38.8,-6.4],[39.5,-8.8],[40.4,-10.5],[38,-11.3],[34.9,-11.6],[34.2,-9.5],[33,-9.4],[30.7,-8.3],[29,-4.5],[30.5,-3.5],[30.5,-1]]],
RWA:[[[29,-2.7],[29.6,-1],[30.5,-1],[30.5,-2.4]]],
BDI:[[[29,-2.7],[30.5,-2.4],[30.5,-3.5],[29.5,-4.4]]],
ZMB:[[[22,-13],[24,-11],[27.3,-11.6],[29.8,-12.2],[28.5,-9],[30.7,-8.3],[33,-9.4],[33.3,-11],[33,-14],[30.2,-15],[28.8,-16.5],[25.3,-17.8],[23.4,-17.6],[22,-16.2]]],
MWI:[[[33,-9.4],[34.2,-9.5],[34.9,-11.6],[35.8,-16],[35,-17],[34.3,-14.5],[33,-14],[33.3,-11]]],
MOZ:[[[34.9,-11.6],[38,-11.3],[40.4,-10.5],[40.7,-15],[37,-17.8],[34.9,-20],[35.5,-24],[32.9,-26],[32,-26],[32.5,-22],[33,-19.5],[32.9,-16.7],[30.2,-15],[33,-14],[34.3,-14.5],[35,-17],[35.8,-16]]],
ZWE:[[[25.3,-17.8],[28.8,-16.5],[30.2,-15],[32.9,-16.7],[33,-19.5],[32.5,-22],[29,-22.2],[27,-20.8]]],
BWA:[[[21,-18.2],[23.4,-17.6],[25.3,-17.8],[27,-20.8],[29,-22.2],[26,-25],[23,-25.3],[20.8,-26.8],[20,-24.7],[20,-22],[21,-22]]],
NAM:[[[11.8,-17.3],[13.4,-17],[21,-18],[23.4,-17.6],[21,-18.2],[21,-22],[20,-22],[20,-28.4],[17,-28.5],[15,-27],[14.5,-22.5]]],
ZAF:[[[16.5,-28.6],[17,-28.5],[20,-28.4],[20,-24.7],[20.8,-26.8],[23,-25.3],[26,-25],[29,-22.2],[31.3,-22.4],[32,-26],[32.9,-26],[32.5,-28.5],[30,-31.5],[27,-33.9],[22,-34.2],[18.5,-34.3],[18,-32]]],
LSO:[[[27,-29.7],[29.3,-29.5],[28,-30.6]]],
SWZ:[[[31,-26],[32,-26],[32,-27.2],[31,-27.2]]],
MDG:[[[49.3,-12],[50.5,-15.5],[47.2,-25],[45,-25.6],[43.5,-23.5],[44.3,-20],[44,-16.5],[46.5,-15.7]]],
COL:[[[-77.4,8.7],[-75.6,10.7],[-72,12.2],[-71.3,11.8],[-72.9,9],[-72,7],[-70,7],[-67.5,6.2],[-67.8,3],[-67,1.2],[-70,1.5],[-69.5,-0.5],[-70,-4.2],[-72.8,-2.4],[-75.2,-0.1],[-78.7,1.4],[-77.5,4],[-77.9,7.2]]],
VEN:[[[-71.3,11.8],[-70,12.2],[-68,10.6],[-64,10.6],[-62,10.7],[-60,8.5],[-61,7],[-60.7,5.2],[-62.8,4],[-64,4.2],[-64,1.5],[-67,1.2],[-67.8,3],[-67.5,6.2],[-70,7],[-72,7],[-72.9,9]]],
GUY:[[[-60,8.5],[-57.2,6],[-58,4],[-57,2],[-59,1.3],[-60,3],[-60.7,5.2],[-61,7]]],
SUR:[[[-57.2,6],[-54,5.9],[-54.5,2.3],[-57,2],[-58,4]]],
GUF:[[[-54,5.9],[-51.7,4.2],[-53,2.2],[-54.5,2.3]]],
ECU:[[[-80.9,-2.2],[-80,0.8],[-78.7,1.4],[-75.2,-0.1],[-78,-3],[-80.3,-3.4]]],
PER:[[[-81.3,-4.5],[-80.3,-3.4],[-78,-3],[-75.2,-0.1],[-72.8,-2.4],[-70,-4.2],[-73,-7.5],[-73.5,-9.5],[-69.5,-10.9],[-69,-12.5],[-69.5,-17.5],[-70.4,-18.3],[-76,-14],[-79,-8]]],
BOL:[[[-69.5,-10.9],[-65.3,-10],[-60.5,-13.8],[-58,-16.3],[-58,-20],[-62.7,-22.2],[-66.3,-21.8],[-68.5,-22.8],[-69,-19],[-69.5,-17.5],[-69,-12.5]]],
PRY:[[[-58,-20],[-55,-22.3],[-54.6,-25.5],[-58,-27.3],[-57.7,-25.5],[-60,-24],[-62.7,-22.2]]],
BRA:[[[-51.7,4.2],[-50,1.8],[-48.6,-1.2],[-44.5,-2.5],[-40,-2.9],[-35.2,-5.3],[-34.8,-8],[-37,-11],[-39,-13.5],[-39,-18],[-41,-22],[-44.7,-23.3],[-48.5,-25.9],[-48.6,-28],[-53.4,-33.8],[-55.5,-30.9],[-58,-30.3],[-53.8,-27],[-54.6,-25.5],[-55,-22.3],[-58,-20],[-58,-16.3],[-60.5,-13.8],[-65.3,-10],[-69.5,-10.9],[-73.5,-9.5],[-73,-7.5],[-70,-4.2],[-69.5,-0.5],[-70,1.5],[-67,1.2],[-64,1.5],[-64,4.2],[-62.8,4],[-60.7,5.2],[-60,3],[-59,1.3],[-57,2],[-54.5,2.3],[-53,2.2]]],
CHL:[[[-70.4,-18.3],[-69.5,-17.5],[-69,-19],[-68.5,-22.8],[-68.4,-24.5],[-70,-30],[-70.5,-35],[-71.5,-40],[-71.8,-44],[-72,-48],[-73,-50.5],[-72,-52],[-68.5,-52.3],[-68.6,-55],[-66.5,-55.2],[-71,-55.8],[-75,-52],[-74,-46],[-72.8,-41],[-72.5,-37],[-71.3,-32],[-70.3,-25]]],
ARG:[[[-66.3,-21.8],[-62.7,-22.2],[-60,-24],[-57.7,-25.5],[-58,-27.3],[-54.6,-25.5],[-53.8,-27],[-58,-30.3],[-58.4,-34],[-57,-36.5],[-58,-38.2],[-62,-39],[-65,-41],[-63.5,-42.5],[-67,-46],[-65.8,-47.5],[-69,-51],[-68.5,-52.3],[-72,-52],[-73,-50.5],[-72,-48],[-71.8,-44],[-71.5,-40],[-70.5,-35],[-70,-30],[-68.4,-24.5],[-68.5,-22.8]],[[-68.6,-52.8],[-68.6,-55],[-65.2,-54.8]]],
AUS:[[[114,-22],[113.7,-26],[115.5,-31.5],[115,-34.3],[118,-35],[123.5,-33.9],[127,-32.3],[131,-31.5],[134.2,-32.8],[135.8,-34.9],[137.8,-33],[137.8,-35.5],[139.7,-36.5],[143.5,-38.8],[146.3,-39],[150,-37.5],[151.3,-33.9],[153,-31],[153.5,-28],[153,-25.2],[150.8,-23],[149,-20.5],[146.3,-18.9],[145.4,-15],[143.5,-14],[142.6,-10.8],[141.6,-13],[141,-16.5],[139.5,-17.5],[135.5,-15],[136.8,-12.2],[132.6,-11.4],[130.9,-12.5],[129.5,-15],[127,-14],[125,-15.5],[122.2,-17.5],[121,-19.6],[117,-20.7]],[[144.8,-40.7],[148.3,-40.9],[148,-43],[146,-43.6],[145.3,-42.2]]]
};

// inland water, painted over the countries
var lakes=[
[[47,45],[47.5,43],[49.5,40.5],[49,38],[51,36.7],[54,36.9],[53.5,39.5],[52.7,41.5],[53.5,42],[51.3,43.2],[51,44.7],[53,46.7],[50,47],[48,46]],
[[58.5,46.5],[61,46.5],[61.5,45],[59,44]],
[[103.8,51.6],[106,52.5],[109.5,55.5],[109,55.8],[105.5,53],[103.8,52]],
[[-125,66],[-121,67],[-118,66.3],[-120,65],[-123,65]],
[[-117,61],[-113,62.4],[-109,62.8],[-112,61.5],[-115,60.8]],
[[-99,53],[-97,54],[-96.5,51],[-98,50.5]],
[[-111.5,59.2],[-106,59.3],[-106,58.9],[-111,58.6]],
[[-103,57.6],[-101.8,57.6],[-102.4,56.4]],
[[-92,46.8],[-88,48.8],[-85,47.8],[-84.7,46.6],[-87,46.5],[-90,46.8]],
[[-87.8,42],[-87.2,46],[-85,46],[-86.3,43],[-87,41.7]],
[[-84,46],[-81,46],[-79.8,44.7],[-82,43.1],[-83.5,43.8],[-83.3,45.2]],
[[-83.3,41.5],[-79,42.8],[-79,43],[-82.5,42.4]],
[[-79.7,43.2],[-76.2,44],[-76.2,43.4],[-79,43.2]],
[[31.7,-0.5],[33.9,0.4],[34.2,-1.5],[32,-2.8]],
[[29.2,-3.5],[29.7,-4.2],[31,-8],[30.3,-8.5],[29.3,-6]],
[[34.3,-9.8],[34.8,-12],[34.7,-14],[34.3,-12]],
[[30.5,60],[33,61],[32,61.6],[30.5,61]],
[[34.8,61],[36,62],[35,62.5]],
[[12.5,58.8],[14,59],[13.5,59.3]],
[[-71.5,66.3],[-70,66.6],[-68.5,66],[-70.5,65.5]]
];

// narrow sounds in the Arctic islands
var channels=[
[[-93,81.6],[-89.3,81],[-84,80.7],[-80,81.1]],
[[-89.3,80.7],[-87.2,80.1],[-86.1,79.5],[-83,79.2],[-87.2,78.5]],
[[-83,79.2],[-80.8,80]]
];

var width=624,height=461;
var mercator=d3.geoMercator().scale(90).translate([292,272]);

// Chukotka is written past 180 so it stays on the right edge
function project(p){
	if(p[0]<=180) return mercator(p);
	var q=mercator([p[0]-360,p[1]]);
	return [q[0]+2*Math.PI*90,q[1]];
}

var color=d3.scaleThreshold().domain(scoreBins).range(mapColors);
var line=d3.line().curve(d3.curveLinearClosed);
var openLine=d3.line();

function ringsPath(rings){
	return rings.map(function(r){ return line(r.map(project)); }).join("");
}

var scoreOf=d3.rollup(countryCodes.map(function(c,i){ return [c,countryScores[i]]; }),function(v){ return v[0][1]; },function(d){ return d[0]; });

var svg=d3.select("#chart").append("svg")
	.attr("width",width)
	.attr("height",height);

// grey places first, then the scored countries
svg.append("g").selectAll("path")
	.data(noDataCodes)
	.enter().append("path")
	.attr("d",function(d){ return ringsPath(shapes[d]); })
	.style("fill",noDataColor);

svg.append("g").selectAll("path")
	.data(countryCodes)
	.enter().append("path")
	.attr("d",function(d){ return ringsPath(shapes[d]); })
	.style("fill",function(d){ return color(scoreOf.get(d)); })
	.style("stroke",function(d){ return color(scoreOf.get(d)); })
	.style("stroke-width",0.5)
	.style("stroke-linejoin","round");

// faint borders on top
svg.append("g").selectAll("path")
	.data(countryCodes)
	.enter().append("path")
	.attr("d",function(d){ return ringsPath(shapes[d]); })
	.style("fill","none")
	.style("stroke","#f3e6d8")
	.style("stroke-opacity",0.2)
	.style("stroke-width",0.5);

svg.append("g").selectAll("path")
	.data(lakes)
	.enter().append("path")
	.attr("d",function(d){ return line(d.map(project)); })
	.style("fill","#e5eae5");

svg.append("g").selectAll("path")
	.data(channels)
	.enter().append("path")
	.attr("d",function(d){ return openLine(d.map(project)); })
	.style("fill","none")
	.style("stroke","#e5eae5")
	.style("stroke-width",1.3);

// title
svg.append("g").selectAll("text")
	.data(titleLines)
	.enter().append("text")
	.attr("x",36.5)
	.attr("y",function(d,i){ return 321+i*17.4; })
	.style("font-family","'Liberation Mono',monospace")
	.style("font-size","13.2px")
	.style("fill","#222")
	.text(function(d){ return d; });

// source
var source=svg.append("g").style("font-family","Roboto,sans-serif").style("font-size","6.1px").style("fill","#333");
var sourceText=source.append("text").attr("x",598).attr("y",369).attr("text-anchor","end");
sourceText.append("tspan").style("font-weight",700).style("fill","#111").text("Fonte ");
sourceText.append("tspan").text(sourceLines[0]);
source.append("text").attr("x",598).attr("y",377).attr("text-anchor","end").style("font-style","italic").text(sourceLines[1]);

// legend
var legendX=d3.scaleLinear().domain([0,10,90,100]).range([36,97,534,596]);
var bins=d3.pairs(legendTicks);

svg.append("g").selectAll("rect")
	.data(bins)
	.enter().append("rect")
	.attr("x",function(d){ return legendX(d[0]); })
	.attr("y",402)
	.attr("width",function(d){ return legendX(d[1])-legendX(d[0]); })
	.attr("height",37)
	.style("fill",function(d,i){ return legendColors[i]; });

var axis=svg.append("g")
	.attr("transform","translate(0,399)")
	.call(d3.axisTop(legendX).tickValues(legendTicks).tickSize(0).tickPadding(3).tickFormat(d3.format("d")));
axis.select(".domain").remove();
axis.selectAll("text")
	.attr("text-anchor",function(d){ return d==100?"end":"start"; })
	.attr("dx",function(d){ return d==100?0:(d==0?1:-2); })
	.style("font-family","Roboto,sans-serif")
	.style("font-weight",300)
	.style("font-size","10.5px")
	.style("fill","#444");

var endLabels=svg.append("g")
	.style("font-family","'DejaVu Sans Mono',monospace")
	.style("font-weight",700)
	.style("font-size","7.4px")
	.style("fill","#f4f0e8");
endLabels.append("text").attr("x",44).attr("y",419).text("Muito");
endLabels.append("text").attr("x",44).attr("y",429).text("corrupto");
endLabels.append("text").attr("x",586).attr("y",419).attr("text-anchor","end").text("Muito");
endLabels.append("text").attr("x",586).attr("y",429).attr("text-anchor","end").text("limpo");
</script>
</body>
</html>
